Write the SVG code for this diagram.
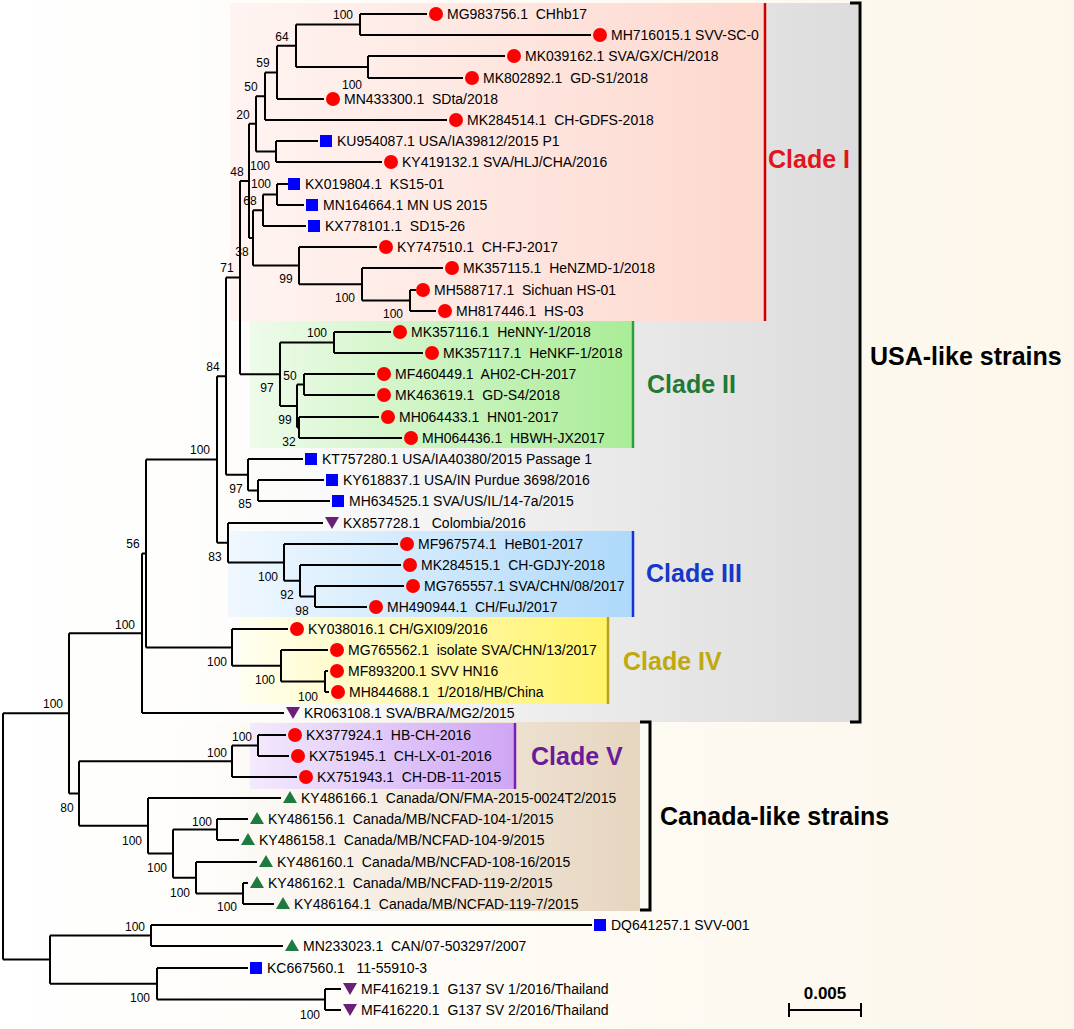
<svg xmlns="http://www.w3.org/2000/svg" xmlns:xlink="http://www.w3.org/1999/xlink" width="1074" height="1029" viewBox="0 0 1074 1029">
<style>
.lf{font-family:"Liberation Sans",Arial,sans-serif;font-size:14px;fill:#000;white-space:pre}
.bs{font-family:"Liberation Sans",Arial,sans-serif;font-size:12px;fill:#000;text-anchor:middle}
.cl{font-family:"Liberation Sans",Arial,sans-serif;font-size:25px;font-weight:bold}
.br{fill:none;stroke:#000;stroke-width:2}
.bk{fill:none;stroke:#000;stroke-width:3}
</style>
<defs>
<linearGradient id="gBg" x1="0" y1="0" x2="1" y2="0"><stop offset="0" stop-color="#FFFFFF"/><stop offset="1" stop-color="#FDF7EB"/></linearGradient>
<linearGradient id="gGrey" x1="0" y1="0" x2="1" y2="0"><stop offset="0" stop-color="#FFFFFF" stop-opacity="0"/><stop offset="0.3" stop-color="#F8F8F8"/><stop offset="1" stop-color="#DCDCDC"/></linearGradient>
<linearGradient id="gTan" x1="0" y1="0" x2="1" y2="0"><stop offset="0" stop-color="#FFFFFF" stop-opacity="0"/><stop offset="0.3" stop-color="#FBF6F0"/><stop offset="1" stop-color="#E6D5BF"/></linearGradient>
<linearGradient id="gPink" x1="0" y1="0" x2="1" y2="0"><stop offset="0" stop-color="#FFF4F2"/><stop offset="1" stop-color="#FDD8CE"/></linearGradient>
<linearGradient id="gGreen" x1="0" y1="0" x2="1" y2="0"><stop offset="0" stop-color="#EEFBEA"/><stop offset="1" stop-color="#A9EC97"/></linearGradient>
<linearGradient id="gBlue" x1="0" y1="0" x2="1" y2="0"><stop offset="0" stop-color="#F0F8FF"/><stop offset="1" stop-color="#AED9FA"/></linearGradient>
<linearGradient id="gYel" x1="0" y1="0" x2="1" y2="0"><stop offset="0" stop-color="#FFFFF0"/><stop offset="1" stop-color="#FFF36A"/></linearGradient>
<linearGradient id="gPur" x1="0" y1="0" x2="1" y2="0"><stop offset="0" stop-color="#F3EAFD"/><stop offset="1" stop-color="#CFA6F5"/></linearGradient>
<circle id="mc" r="7" fill="#FF0000"/>
<rect id="ms" x="-6" y="-6" width="12" height="12" fill="#0000FF"/>
<polygon id="mt" points="0,-7 7,5 -7,5" fill="#1E7B3F"/>
<polygon id="mv" points="-7,-6 7,-6 0,6" fill="#6B2077"/>
</defs>
<rect x="0" y="0" width="1074" height="1029" fill="url(#gBg)"/>
<g id="regions">
<rect x="140" y="3" width="718" height="719" fill="url(#gGrey)"/>
<rect x="140" y="722" width="500" height="189" fill="url(#gTan)"/>
<rect x="230" y="3" width="535" height="318" fill="url(#gPink)"/>
<rect x="250" y="321" width="383" height="127" fill="url(#gGreen)"/>
<rect x="228" y="531" width="405" height="86" fill="url(#gBlue)"/>
<rect x="240" y="617" width="368" height="87" fill="url(#gYel)"/>
<rect x="250" y="723" width="264" height="66" fill="url(#gPur)"/>
<line x1="765" y1="3" x2="765" y2="321" stroke="#CC0000" stroke-width="2.5"/>
<line x1="633" y1="321" x2="633" y2="448" stroke="#2E9E3E" stroke-width="2.5"/>
<line x1="633" y1="531" x2="633" y2="617" stroke="#1533D6" stroke-width="2.5"/>
<line x1="608" y1="617" x2="608" y2="704" stroke="#B8A020" stroke-width="2.5"/>
<line x1="515" y1="723" x2="515" y2="789" stroke="#7A20B0" stroke-width="2.5"/>
</g>
<g id="group-labels">
<path class="bk" d="M850,3 H860 V722 H850"/>
<path class="bk" d="M640,722 H650 V910 H640"/>
<text class="cl" x="768" y="168" fill="#E3141B">Clade I</text>
<text class="cl" x="647" y="393" fill="#1F7A35">Clade II</text>
<text class="cl" x="646" y="582" fill="#1438C8">Clade III</text>
<text class="cl" x="623" y="670" fill="#BFA90F">Clade IV</text>
<text class="cl" x="531" y="765" fill="#6A1B9A">Clade V</text>
<text class="cl" x="870" y="365" fill="#000">USA-like strains</text>
<text class="cl" x="660" y="825" fill="#000">Canada-like strains</text>
</g>
<g id="connectors">
<path class="br" d="
M360,14V35M360,14H427M360,35H591
M368,56V78M368,56H505M368,78H463
M296,24.5V67M296,24.5H360M296,67H368
M277,45.75V99M277,45.75H296M277,99H324
M265,72.4V120M265,72.4H277M265,120H447
M276,141V162M276,141H318M276,162H382
M256,96.2V151.5M256,96.2H265M256,151.5H276
M277,184V205M277,184H288M277,205H304
M263,194.5V226M263,194.5H277M263,226H306
M410,290V311M410,290H416M410,311H436
M362,268V300.5M362,268H443M362,300.5H410
M299,247V284.25M299,247H377M299,284.25H362
M253,210.25V265.6M253,210.25H263M253,265.6H299
M249,123.85V237.9M249,123.85H256M249,237.9H253
M334,332V353M334,332H391M334,353H423
M304,374V395M304,374H375M304,395H375
M299,417V438M299,417H379M299,438H402
M297,384.5V427.5M297,384.5H304M297,427.5H299
M280,342.5V406M280,342.5H334M280,406H297
M240,180.9V374.25M240,180.9H249M240,374.25H280
M258,480V501M258,480H324M258,501H330
M248,459V490.5M248,459H303M248,490.5H258
M226,277.6V474.75M226,277.6H240M226,474.75H248
M315,586V607M315,586H404M315,607H367
M300,565V596.5M300,565H401M300,596.5H315
M284,544V580.75M284,544H398M284,580.75H300
M228,523V562.4M228,523H323M228,562.4H284
M217,376.2V542.7M217,376.2H226M217,542.7H228
M325,671V692M325,671H328M325,692H329
M281,650V681.5M281,650H328M281,681.5H325
M232,629V665.75M232,629H288M232,665.75H281
M146,459.45V647.4M146,459.45H217M146,647.4H232
M142,553.4V713M142,553.4H146M142,713H284
M258,735V756M258,735H286M258,756H289
M232,745.5V777M232,745.5H258M232,777H297
M217,819V840M217,819H248M217,840H239
M243,883V904M243,883H248M243,904H274
M196,862V893.5M196,862H257M196,893.5H243
M173,829.5V877.75M173,829.5H217M173,877.75H196
M148,798V853.6M148,798H281M148,853.6H173
M79,761.25V825.8M79,761.25H232M79,825.8H148
M69,633.2V793.5M69,633.2H142M69,793.5H79
M151,925V946M151,925H592M151,946H283
M325,989V1010M325,989H341M325,1010H341
M157,968V999.5M157,968H248M157,999.5H325
M50,935.5V983.75M50,935.5H151M50,983.75H157
M3,713.35V959.6M3,713.35H69M3,959.6H50"/>
</g>
<g id="bootstrap">
<text class="bs" x="343" y="19">100</text>
<text class="bs" x="282" y="41">64</text>
<text class="bs" x="263" y="67">59</text>
<text class="bs" x="352" y="89">100</text>
<text class="bs" x="251" y="91">50</text>
<text class="bs" x="243" y="119">20</text>
<text class="bs" x="260" y="170">100</text>
<text class="bs" x="237" y="176">48</text>
<text class="bs" x="261" y="188">100</text>
<text class="bs" x="250" y="205">68</text>
<text class="bs" x="242" y="256">38</text>
<text class="bs" x="227" y="272">71</text>
<text class="bs" x="286" y="283">99</text>
<text class="bs" x="345" y="302">100</text>
<text class="bs" x="393" y="318">100</text>
<text class="bs" x="317" y="337">100</text>
<text class="bs" x="213" y="371">84</text>
<text class="bs" x="290" y="380">50</text>
<text class="bs" x="267" y="392">97</text>
<text class="bs" x="285" y="424">99</text>
<text class="bs" x="289" y="446">32</text>
<text class="bs" x="200" y="454">100</text>
<text class="bs" x="236" y="493">97</text>
<text class="bs" x="245" y="508">85</text>
<text class="bs" x="133" y="548">56</text>
<text class="bs" x="215" y="561">83</text>
<text class="bs" x="268" y="581">100</text>
<text class="bs" x="287" y="599">92</text>
<text class="bs" x="302" y="615">98</text>
<text class="bs" x="125" y="629">100</text>
<text class="bs" x="217" y="666">100</text>
<text class="bs" x="265" y="684">100</text>
<text class="bs" x="308" y="701">100</text>
<text class="bs" x="53" y="708">100</text>
<text class="bs" x="242" y="741">100</text>
<text class="bs" x="217" y="757">100</text>
<text class="bs" x="67" y="812">80</text>
<text class="bs" x="202" y="826">100</text>
<text class="bs" x="132" y="845">100</text>
<text class="bs" x="157" y="872">100</text>
<text class="bs" x="180" y="897">100</text>
<text class="bs" x="227" y="911">100</text>
<text class="bs" x="135" y="931">100</text>
<text class="bs" x="140" y="1002">100</text>
<text class="bs" x="310" y="1019">100</text>
</g>
<g id="leaves">
<g id="n1"><use href="#mc" x="436" y="14"/><text class="lf" x="447" y="19">MG983756.1  CHhb17</text></g>
<g id="n2"><use href="#mc" x="600" y="35"/><text class="lf" x="611" y="40">MH716015.1 SVV-SC-0</text></g>
<g id="n3"><use href="#mc" x="514" y="56"/><text class="lf" x="525" y="61">MK039162.1 SVA/GX/CH/2018</text></g>
<g id="n4"><use href="#mc" x="472" y="78"/><text class="lf" x="483" y="83">MK802892.1  GD-S1/2018</text></g>
<g id="n5"><use href="#mc" x="333" y="99"/><text class="lf" x="344" y="104">MN433300.1  SDta/2018</text></g>
<g id="n6"><use href="#mc" x="456" y="120"/><text class="lf" x="467" y="125">MK284514.1  CH-GDFS-2018</text></g>
<g id="n7"><use href="#ms" x="326" y="141"/><text class="lf" x="337" y="146">KU954087.1 USA/IA39812/2015 P1</text></g>
<g id="n8"><use href="#mc" x="391" y="162"/><text class="lf" x="402" y="167">KY419132.1 SVA/HLJ/CHA/2016</text></g>
<g id="n9"><use href="#ms" x="294" y="184"/><text class="lf" x="305" y="189">KX019804.1  KS15-01</text></g>
<g id="n10"><use href="#ms" x="312" y="205"/><text class="lf" x="323" y="210">MN164664.1 MN US 2015</text></g>
<g id="n11"><use href="#ms" x="314" y="226"/><text class="lf" x="325" y="231">KX778101.1  SD15-26</text></g>
<g id="n12"><use href="#mc" x="386" y="247"/><text class="lf" x="397" y="252">KY747510.1  CH-FJ-2017</text></g>
<g id="n13"><use href="#mc" x="452" y="268"/><text class="lf" x="463" y="273">MK357115.1  HeNZMD-1/2018</text></g>
<g id="n14"><use href="#mc" x="423" y="290"/><text class="lf" x="434" y="295">MH588717.1  Sichuan HS-01</text></g>
<g id="n15"><use href="#mc" x="445" y="311"/><text class="lf" x="456" y="316">MH817446.1  HS-03</text></g>
<g id="n16"><use href="#mc" x="400" y="332"/><text class="lf" x="411" y="337">MK357116.1  HeNNY-1/2018</text></g>
<g id="n17"><use href="#mc" x="432" y="353"/><text class="lf" x="443" y="358">MK357117.1  HeNKF-1/2018</text></g>
<g id="n18"><use href="#mc" x="384" y="374"/><text class="lf" x="395" y="379">MF460449.1  AH02-CH-2017</text></g>
<g id="n19"><use href="#mc" x="384" y="395"/><text class="lf" x="395" y="400">MK463619.1  GD-S4/2018</text></g>
<g id="n20"><use href="#mc" x="388" y="417"/><text class="lf" x="399" y="422">MH064433.1  HN01-2017</text></g>
<g id="n21"><use href="#mc" x="411" y="438"/><text class="lf" x="422" y="443">MH064436.1  HBWH-JX2017</text></g>
<g id="n22"><use href="#ms" x="311" y="459"/><text class="lf" x="322" y="464">KT757280.1 USA/IA40380/2015 Passage 1</text></g>
<g id="n23"><use href="#ms" x="332" y="480"/><text class="lf" x="343" y="485">KY618837.1 USA/IN Purdue 3698/2016</text></g>
<g id="n24"><use href="#ms" x="338" y="501"/><text class="lf" x="349" y="506">MH634525.1 SVA/US/IL/14-7a/2015</text></g>
<g id="n25"><use href="#mv" x="332" y="523"/><text class="lf" x="343" y="528">KX857728.1   Colombia/2016</text></g>
<g id="n26"><use href="#mc" x="407" y="544"/><text class="lf" x="418" y="549">MF967574.1  HeB01-2017</text></g>
<g id="n27"><use href="#mc" x="410" y="565"/><text class="lf" x="421" y="570">MK284515.1  CH-GDJY-2018</text></g>
<g id="n28"><use href="#mc" x="413" y="586"/><text class="lf" x="424" y="591">MG765557.1 SVA/CHN/08/2017</text></g>
<g id="n29"><use href="#mc" x="376" y="607"/><text class="lf" x="387" y="612">MH490944.1  CH/FuJ/2017</text></g>
<g id="n30"><use href="#mc" x="297" y="629"/><text class="lf" x="308" y="634">KY038016.1 CH/GXI09/2016</text></g>
<g id="n31"><use href="#mc" x="337" y="650"/><text class="lf" x="348" y="655">MG765562.1  isolate SVA/CHN/13/2017</text></g>
<g id="n32"><use href="#mc" x="337" y="671"/><text class="lf" x="348" y="676">MF893200.1 SVV HN16</text></g>
<g id="n33"><use href="#mc" x="338" y="692"/><text class="lf" x="349" y="697">MH844688.1  1/2018/HB/China</text></g>
<g id="n34"><use href="#mv" x="293" y="713"/><text class="lf" x="304" y="718">KR063108.1 SVA/BRA/MG2/2015</text></g>
<g id="n35"><use href="#mc" x="295" y="735"/><text class="lf" x="306" y="740">KX377924.1  HB-CH-2016</text></g>
<g id="n36"><use href="#mc" x="298" y="756"/><text class="lf" x="309" y="761">KX751945.1  CH-LX-01-2016</text></g>
<g id="n37"><use href="#mc" x="306" y="777"/><text class="lf" x="317" y="782">KX751943.1  CH-DB-11-2015</text></g>
<g id="n38"><use href="#mt" x="290" y="798"/><text class="lf" x="301" y="803">KY486166.1  Canada/ON/FMA-2015-0024T2/2015</text></g>
<g id="n39"><use href="#mt" x="257" y="819"/><text class="lf" x="268" y="824">KY486156.1  Canada/MB/NCFAD-104-1/2015</text></g>
<g id="n40"><use href="#mt" x="248" y="840"/><text class="lf" x="259" y="845">KY486158.1  Canada/MB/NCFAD-104-9/2015</text></g>
<g id="n41"><use href="#mt" x="266" y="862"/><text class="lf" x="277" y="867">KY486160.1  Canada/MB/NCFAD-108-16/2015</text></g>
<g id="n42"><use href="#mt" x="257" y="883"/><text class="lf" x="268" y="888">KY486162.1  Canada/MB/NCFAD-119-2/2015</text></g>
<g id="n43"><use href="#mt" x="283" y="904"/><text class="lf" x="294" y="909">KY486164.1  Canada/MB/NCFAD-119-7/2015</text></g>
<g id="n44"><use href="#ms" x="600" y="925"/><text class="lf" x="611" y="930">DQ641257.1 SVV-001</text></g>
<g id="n45"><use href="#mt" x="292" y="946"/><text class="lf" x="303" y="951">MN233023.1  CAN/07-503297/2007</text></g>
<g id="n46"><use href="#ms" x="256" y="968"/><text class="lf" x="267" y="973">KC667560.1   11-55910-3</text></g>
<g id="n47"><use href="#mv" x="350" y="989"/><text class="lf" x="361" y="994">MF416219.1  G137 SV 1/2016/Thailand</text></g>
<g id="n48"><use href="#mv" x="350" y="1010"/><text class="lf" x="361" y="1015">MF416220.1  G137 SV 2/2016/Thailand</text></g>
</g>
<g id="scale">
<path class="br" d="M789,1010H861M789,1003V1017M861,1003V1017"/>
<text x="825" y="999" text-anchor="middle" style="font-family:'Liberation Sans',Arial,sans-serif;font-size:17px;font-weight:bold">0.005</text>
</g>
</svg>
